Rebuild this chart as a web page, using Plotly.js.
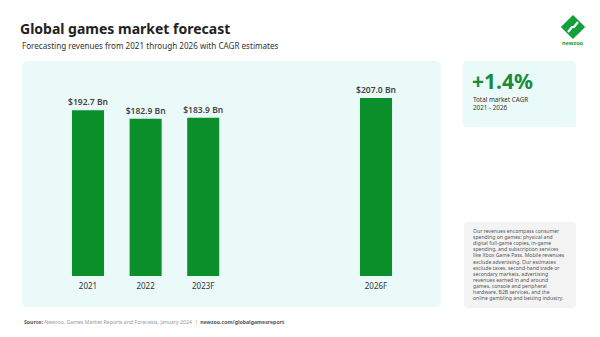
<!DOCTYPE html>
<html>
<head>
<meta charset="utf-8">
<script src="https://cdn.plot.ly/plotly-3.0.1.min.js"></script>
<style>html,body{margin:0;padding:0;background:#fff;}#chart{width:600px;height:337px;}</style>
</head>
<body>
<div id="chart"></div>
<script>
// ---- data ----
const years = [2021, 2022, 2023, 2026];
const tickLabels = ['2021', '2022', '2023F', '2026F'];
const revenues = [192.7, 182.9, 183.9, 207.0];
const valueLabels = ['$192.7 Bn', '$182.9 Bn', '$183.9 Bn', '$207.0 Bn'];
const cagrValue = '+1.4%';
const cagrLabel = 'Total market CAGR<br>2021 - 2026';
const noteLines = [
  'Our revenues encompass consumer',
  'spending on games: physical and',
  'digital full-game copies, in-game',
  'spending, and subscription services',
  'like Xbox Game Pass. Mobile revenues',
  'exclude advertising. Our estimates',
  'exclude taxes, second-hand trade or',
  'secondary markets, advertising',
  'revenues earned in and around',
  'games, console and peripheral',
  'hardware, B2B services, and the',
  'online gambling and betting industry.'
];

// ---- layout helpers (pixel -> paper) ----
const L = 22, R = 441, T = 61, B = 276;
const fx = p => (p - L) / (R - L);
const fy = p => (B - p) / (B - T);
function roundRect(x0, y0, x1, y1, r) {
  const X = fx, Y = fy;
  return 'M' + X(x0 + r) + ',' + Y(y0) +
    ' L' + X(x1 - r) + ',' + Y(y0) +
    ' Q' + X(x1) + ',' + Y(y0) + ' ' + X(x1) + ',' + Y(y0 + r) +
    ' L' + X(x1) + ',' + Y(y1 - r) +
    ' Q' + X(x1) + ',' + Y(y1) + ' ' + X(x1 - r) + ',' + Y(y1) +
    ' L' + X(x0 + r) + ',' + Y(y1) +
    ' Q' + X(x0) + ',' + Y(y1) + ' ' + X(x0) + ',' + Y(y1 - r) +
    ' L' + X(x0) + ',' + Y(y0 + r) +
    ' Q' + X(x0) + ',' + Y(y0) + ' ' + X(x0 + r) + ',' + Y(y0) + ' Z';
}
function poly(pts) {
  return 'M' + pts.map(p => fx(p[0]) + ',' + fy(p[1])).join(' L') + ' Z';
}

const FONT = 'Noto Sans, sans-serif';
const green = '#0a8f2b';

const trace = {
  type: 'bar',
  x: years,
  y: revenues,
  width: 0.556,
  marker: {color: green},
  text: valueLabels,
  textposition: 'outside',
  constraintext: 'none',
  textfont: {family: FONT, size: 8.5, color: '#444', weight: 600},
  cliponaxis: false,
  hoverinfo: 'skip'
};

const shapes = [
  {type: 'path', xref: 'paper', yref: 'paper', layer: 'below', path: roundRect(22, 61, 441, 307, 6), fillcolor: '#eafaf8', line: {width: 0}},
  {type: 'path', xref: 'paper', yref: 'paper', layer: 'below', path: roundRect(463, 61, 576, 127, 4), fillcolor: '#eafaf8', line: {width: 0}},
  {type: 'path', xref: 'paper', yref: 'paper', layer: 'below', path: roundRect(464, 222, 576, 308, 4), fillcolor: '#f3f3f3', line: {width: 0}},
  // logo diamond
  {type: 'path', xref: 'paper', yref: 'paper', path: poly([[573, 17], [583, 27], [573, 37], [563, 27]]), fillcolor: '#11a03a', line: {color: '#11a03a', width: 3}},
  {type: 'path', xref: 'paper', yref: 'paper', path: 'M' + fx(568) + ',' + fy(32) + ' L' + fx(572) + ',' + fy(27) + ' L' + fx(574) + ',' + fy(27) + ' L' + fx(578) + ',' + fy(22), line: {color: '#ffffff', width: 2.2}}
];

const annotations = [
  {xref: 'paper', yref: 'paper', x: fx(20), y: fy(45), xanchor: 'left', yanchor: 'middle', showarrow: false,
   text: 'Forecasting revenues from 2021 through 2026 with CAGR estimates', font: {family: FONT, size: 8.1, color: '#333'}},
  {xref: 'paper', yref: 'paper', x: fx(470), y: fy(81), xanchor: 'left', yanchor: 'middle', showarrow: false,
   text: cagrValue, font: {family: FONT, size: 21, color: '#1a8a3c', weight: 700}},
  {xref: 'paper', yref: 'paper', x: fx(471), y: fy(103.5), xanchor: 'left', yanchor: 'middle', showarrow: false, align: 'left',
   text: cagrLabel, font: {family: FONT, size: 6.3, color: '#333'}},
  {xref: 'paper', yref: 'paper', x: fx(22), y: fy(322), xanchor: 'left', yanchor: 'middle', showarrow: false,
   text: '<span style="color:#555"><b>Source:</b></span> Newzoo, Games Market Reports and Forecasts, January 2024  |  <span style="color:#555"><b>newzoo.com/globalgamesreport</b></span>',
   font: {family: FONT, size: 5.2, color: '#999'}},
  {xref: 'paper', yref: 'paper', x: fx(573), y: fy(43), xanchor: 'center', yanchor: 'middle', showarrow: false,
   text: 'newzoo', font: {family: FONT, size: 5.5, color: '#11a03a', weight: 700}}
];
noteLines.forEach((line, i) => {
  annotations.push({xref: 'paper', yref: 'paper', x: fx(471), y: fy(231 + i * 6.1), xanchor: 'left', yanchor: 'middle',
    showarrow: false, text: line, font: {family: FONT, size: 5.1, color: '#555'}});
});

const layout = {
  width: 600, height: 337,
  margin: {l: L, r: 600 - R, t: T, b: 337 - B, pad: 0},
  paper_bgcolor: '#ffffff',
  plot_bgcolor: 'rgba(0,0,0,0)',
  showlegend: false,
  title: {text: '<b>Global games market forecast</b>', xref: 'container', yref: 'container',
    x: 20 / 600, xanchor: 'left', y: 1 - 29 / 337, yanchor: 'middle',
    font: {family: FONT, size: 14, color: '#222'}},
  xaxis: {type: 'linear', range: [2019.854, 2027.128], tickmode: 'array', tickvals: years, ticktext: tickLabels,
    showgrid: false, zeroline: false, showline: false, ticks: '', ticklabelstandoff: 4,
    tickfont: {family: FONT, size: 8, color: '#333'}, fixedrange: true},
  yaxis: {range: [0, 250], visible: false, fixedrange: true},
  shapes: shapes,
  annotations: annotations
};

Plotly.newPlot('chart', [trace], layout, {displayModeBar: false, staticPlot: true});
</script>
</body>
</html>
